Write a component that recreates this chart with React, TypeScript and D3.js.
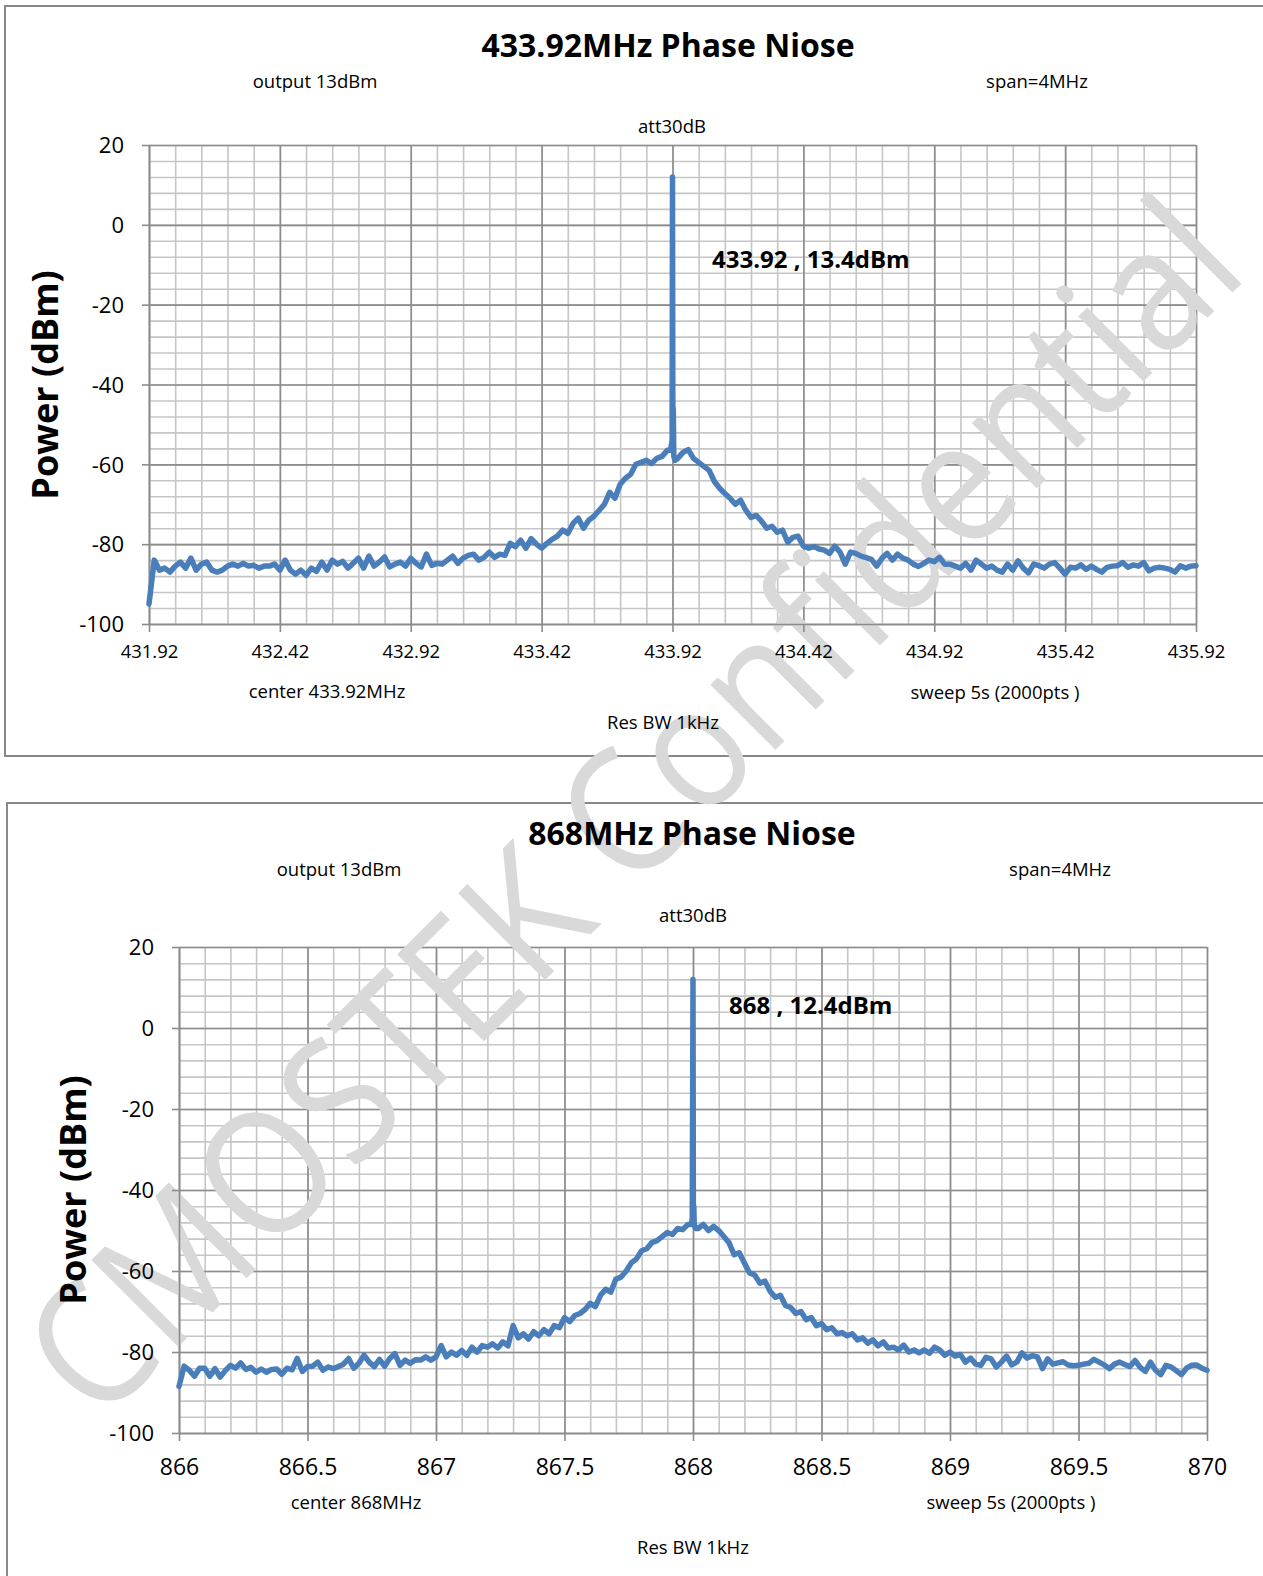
import React, { useRef, useEffect } from 'react';
import * as d3 from 'd3';

const FONT = '"Open Sans", "Noto Sans", sans-serif';

const powerTicks = [-100, -80, -60, -40, -20, 0, 20];
const freqTicks433 = [431.92, 432.42, 432.92, 433.42, 433.92, 434.42, 434.92, 435.42, 435.92];
const freqTicks868 = [866, 866.5, 867, 867.5, 868, 868.5, 869, 869.5, 870];

// trace every 0.02 MHz (431.92 .. 435.92), null = carrier, see carrier433
const power433: (number | null)[] = [
  -95, -84, -86.5, -86, -87, -85.5, -84.5, -86, -83.5, -86.5,
  -85, -84.5, -86.5, -87, -86.5, -85.5, -85, -85.5, -84.8, -85.5,
  -85.3, -86, -85.5, -85.5, -85,
  -86.5, -84, -86.5, -87.5, -86.5, -87.8, -86, -86.8, -84.5, -86.5,
  -84, -85, -84.3, -86, -84.8, -83.5, -86, -83, -85.5, -84.5,
  -83.2, -85.7, -85, -84.5, -85.5,
  -83.5, -84.8, -85.7, -82.5, -85.3, -84.8, -85, -84, -83, -84.8,
  -83.5, -82.8, -82.5, -84, -83.3, -82, -83.3, -82.5, -82.8, -79.8,
  -80.6, -79, -81, -78.6, -80,
  -81, -79.8, -78.8, -78, -76.5, -77.3, -74.8, -73.5, -76, -74,
  -73, -71.5, -70, -67, -68.5, -65, -63.5, -62.5, -60, -59.5,
  -59, -59.8, -58.5, -58, -56.5,
  null,
  -58.5, -57, -56.3, -58.5, -59.5, -60.5, -61.5, -64.3, -66, -67.3,
  -68.5, -70, -69, -71.5, -73.3, -72.8, -74.2, -76, -75.5, -77,
  -76.5, -79.5, -78.3, -78,
  -80.5, -81, -80.6, -81.2, -81.5, -82.3, -80.5, -82, -85, -82,
  -82.3, -83, -83.4, -83.8, -85.5, -83.5, -82.3, -84, -82.5, -83.5,
  -84, -85, -85.6, -84.8, -84,
  -84.4, -83.3, -85, -85, -85.5, -86, -84.8, -86.5, -84, -85,
  -86, -85.5, -86.5, -87, -85, -86.5, -84.2, -86, -87.2, -85,
  -85.4, -86, -85, -84.6, -86,
  -87.5, -85.8, -86, -85.2, -86.3, -85.5, -86.3, -87, -85.8, -85.5,
  -85.4, -84.6, -85.8, -85.2, -85.5, -84.6, -86.7, -86, -85.8, -86,
  -86.3, -87, -85.4, -86, -85.5, -85.4,
];
// [MHz, dBm] around the 433.92 carrier
const carrier433: [number, number][] = [
  [433.912, -56.5], [433.916, -55], [433.9185, -54], [433.92, 12],
  [433.9215, -55], [433.923, -46], [433.925, -58], [433.93, -59],
];

// trace every 0.02 MHz (866 .. 870), null = carrier, see carrier868
const power868: (number | null)[] = [
  -88.5, -83.5, -84.5, -86, -84, -84, -86, -84.1, -86.2, -84.6,
  -83.3, -84, -82.7, -84.3, -83.8, -85, -84.2, -85, -84.3, -84.2,
  -85.5, -84, -84.4, -81.6, -84.8,
  -83.6, -83.5, -82.5, -84.5, -83.7, -84.1, -83.6, -83, -81.6, -84,
  -82.8, -80.8, -82.5, -83.6, -81.8, -83.5, -81.6, -80.4, -83.3, -82,
  -82.8, -81.9, -82, -81.2, -82,
  -81.2, -78.4, -81.2, -80, -80.8, -79.6, -80.8, -78.8, -80, -78.4,
  -78.8, -78, -79, -77.5, -78.5, -73.5, -76.5, -75.5, -76.8, -75,
  -76, -74.5, -75.5, -73.5, -74,
  -71.5, -72.5, -71, -70.5, -69.5, -68, -68.8, -66, -64.5, -65.2,
  -62, -61.5, -60, -58, -57, -55, -54.5, -53, -52.5, -51.5,
  -50.5, -51, -49.5, -49.8, -48.5,
  null,
  -49.5, -48.5, -50, -49, -50, -51.5, -53, -56, -55.5, -58,
  -60.5, -61, -63, -62.5, -65, -66.5, -66, -68.5, -69, -70.5,
  -70, -72, -71.5, -73.5,
  -73, -74.5, -74, -75.5, -75.2, -76, -75.5, -77, -76.5, -77.8,
  -77, -78.5, -77.5, -79, -78.8, -79.5, -78.3, -80, -79.5, -80.2,
  -79.5, -80.3, -78.8, -79.5, -80.8,
  -80, -81, -80.6, -82.5, -81.5, -83, -83.3, -81.3, -81.7, -83.7,
  -82.5, -81, -83.2, -82.5, -80.2, -81.5, -80.9, -81.2, -84.1, -81.7,
  -83, -82.7, -82.4, -83.2, -83.4,
  -83.3, -83, -82.8, -81.8, -82.5, -83.2, -84.1, -83, -82.5, -83.1,
  -83.6, -82.1, -83.8, -84.8, -82.5, -84.5, -85.6, -83.3, -83.7, -84.6,
  -85.6, -84, -83.3, -83.2, -84, -84.5,
];
// [MHz, dBm] around the 868 carrier
const carrier868: [number, number][] = [
  [867.993, -48.5], [867.997, -47], [868, 12], [868.0015, -47],
  [868.003, -44], [868.005, -48.5], [868.01, -49.5],
];

interface Panel {
  span: [number, number];
  freqTicks: number[];
  fmt: (d: number) => string;
  power: (number | null)[];
  carrier: [number, number][];
  title: string;
  marker: string;
  centerNote: string;
  // layout
  box: [number, number, number];
  left: number; right: number; top: number; bottom: number;
  xTickSize: number; xLabelY: number;
  texts: { title: [number, number]; output: [number, number]; span: [number, number]; att: [number, number];
    center: [number, number]; sweep: [number, number]; res: [number, number]; ylab: [number, number]; marker: [number, number] };
}

const panels: Panel[] = [
  {
    span: [431.92, 435.92], freqTicks: freqTicks433, fmt: d3.format('.2f'),
    power: power433, carrier: carrier433,
    title: '433.92MHz Phase Niose', marker: '433.92 , 13.4dBm', centerNote: 'center 433.92MHz',
    box: [5, 6, 750], left: 149, right: 1196, top: 145, bottom: 624,
    xTickSize: 18.5, xLabelY: 652,
    texts: { title: [668, 46], output: [315, 82], span: [1037, 82], att: [672, 127],
      center: [327, 692], sweep: [995, 693], res: [663, 723], ylab: [45, 385], marker: [712, 260] },
  },
  {
    span: [866, 870], freqTicks: freqTicks868, fmt: (d) => String(d),
    power: power868, carrier: carrier868,
    title: '868MHz Phase Niose', marker: '868 , 12.4dBm', centerNote: 'center 868MHz',
    box: [7, 803, 900], left: 179, right: 1207, top: 947, bottom: 1433,
    xTickSize: 23, xLabelY: 1467,
    texts: { title: [692, 834], output: [339, 870], span: [1060, 870], att: [693, 916],
      center: [356, 1503], sweep: [1011, 1503], res: [693, 1548], ylab: [73, 1190], marker: [729, 1006] },
  },
];

const trace = (p: Panel): [number, number][] => {
  const step = (p.span[1] - p.span[0]) / (p.power.length - 1);
  const pts: [number, number][] = [];
  p.power.forEach((v, i) => { if (v !== null) pts.push([p.span[0] + i * step, v]); });
  return [...pts, ...p.carrier].sort((a, b) => a[0] - b[0]);
};

const App: React.FC = () => {
  const svgRef = useRef<SVGSVGElement>(null);

  useEffect(() => {
    if (!svgRef.current) return;
    const svg = d3.select(svgRef.current);
    svg.selectAll('*').remove();

    // layers: grids under the watermark, axes / text / traces above it
    const gridLayer = svg.append('g');
    const markLayer = svg.append('g');
    const topLayer = svg.append('g');

    const put = (g: any, t: string, [cx, cy]: [number, number], size: number, bold = false, anchor = 'middle') =>
      g.append('text').attr('x', cx).attr('y', cy).attr('dy', '0.35em')
        .attr('text-anchor', anchor).attr('font-family', FONT).attr('font-size', size)
        .attr('font-weight', bold ? 700 : 400).attr('fill', '#000').text(t);

    panels.forEach((p) => {
      const x = d3.scaleLinear().domain(p.span).range([p.left, p.right]);
      const y = d3.scaleLinear().domain([-100, 20]).range([p.bottom, p.top]);
      const w = p.right - p.left;
      const h = p.bottom - p.top;

      gridLayer.append('rect')
        .attr('x', p.box[0]).attr('y', p.box[1]).attr('width', 1400).attr('height', p.box[2])
        .attr('fill', 'none').attr('stroke', '#888').attr('stroke-width', 2);

      const minorX = d3.range(41).map((i) => p.span[0] + i * 0.1);
      const minorY = d3.range(-100, 21, 4);

      const grid = (axis: any, at: string, color: string) => {
        const gg = gridLayer.append('g').attr('transform', at).call(axis);
        gg.select('.domain').remove();
        gg.selectAll('line').attr('stroke', color).attr('stroke-width', 1.6);
      };
      grid(d3.axisBottom(x).tickValues(minorX).tickSize(-h).tickFormat(() => ''), `translate(0,${p.bottom})`, '#c6c6c6');
      grid(d3.axisLeft(y).tickValues(minorY).tickSize(-w).tickFormat(() => ''), `translate(${p.left},0)`, '#c6c6c6');
      grid(d3.axisBottom(x).tickValues(p.freqTicks).tickSize(-h).tickFormat(() => ''), `translate(0,${p.bottom})`, '#8c8c8c');
      grid(d3.axisLeft(y).tickValues(powerTicks).tickSize(-w).tickFormat(() => ''), `translate(${p.left},0)`, '#8c8c8c');

      const xa = topLayer.append('g').attr('transform', `translate(0,${p.bottom})`)
        .call(d3.axisBottom(x).tickValues(p.freqTicks).tickSize(8).tickSizeOuter(0).tickFormat(p.fmt as any));
      xa.select('.domain').attr('stroke', '#8c8c8c').attr('stroke-width', 1.6);
      xa.selectAll('line').attr('stroke', '#8c8c8c').attr('stroke-width', 1.6);
      xa.selectAll('text').attr('y', p.xLabelY - p.bottom).attr('dy', '0.35em')
        .attr('font-family', FONT).attr('font-size', p.xTickSize).attr('fill', '#000');

      const ya = topLayer.append('g').attr('transform', `translate(${p.left},0)`)
        .call(d3.axisLeft(y).tickValues(powerTicks).tickSize(7).tickSizeOuter(0).tickPadding(18)
          .tickFormat((d: any) => String(d)));
      ya.select('.domain').attr('stroke', '#8c8c8c').attr('stroke-width', 1.6);
      ya.selectAll('line').attr('stroke', '#8c8c8c').attr('stroke-width', 1.6);
      ya.selectAll('text').attr('dy', '0.35em')
        .attr('font-family', FONT).attr('font-size', 22).attr('fill', '#000');

      const t = p.texts;
      put(topLayer, p.title, t.title, 32, true);
      put(topLayer, 'output 13dBm', t.output, 18.5);
      put(topLayer, 'span=4MHz', t.span, 18.5);
      put(topLayer, 'att30dB', t.att, 18.5);
      put(topLayer, p.centerNote, t.center, 18.5);
      put(topLayer, 'sweep 5s (2000pts )', t.sweep, 18.5);
      put(topLayer, 'Res BW 1kHz', t.res, 18.5);
      put(topLayer, 'Power (dBm)', [0, 0], 36, true)
        .attr('transform', `translate(${t.ylab[0]},${t.ylab[1]}) rotate(-90)`);

      const line = d3.line<[number, number]>().x((d) => x(d[0])).y((d) => y(d[1]));
      topLayer.append('path')
        .datum(trace(p))
        .attr('fill', 'none')
        .attr('stroke', '#4a7ebb')
        .attr('stroke-width', 5.5)
        .attr('stroke-linejoin', 'round')
        .attr('stroke-linecap', 'round')
        .attr('d', line);
      put(topLayer, p.marker, t.marker, 24, true, 'start');
    });

    // watermark
    markLayer.append('text')
      .attr('transform', 'translate(632,808) rotate(-45)')
      .attr('text-anchor', 'middle').attr('dy', '0.35em')
      .attr('font-family', FONT).attr('font-size', 172)
      .attr('textLength', 1630).attr('lengthAdjust', 'spacingAndGlyphs')
      .attr('fill', '#d9d9d9')
      .text('CMOSTEK Confidential');
  }, []);

  return (
    <div style={{ position: 'absolute', left: 0, top: 0, background: '#fff' }}>
      <svg ref={svgRef} width={1263} height={1576} style={{ display: 'block' }} />
    </div>
  );
};

export default App;
